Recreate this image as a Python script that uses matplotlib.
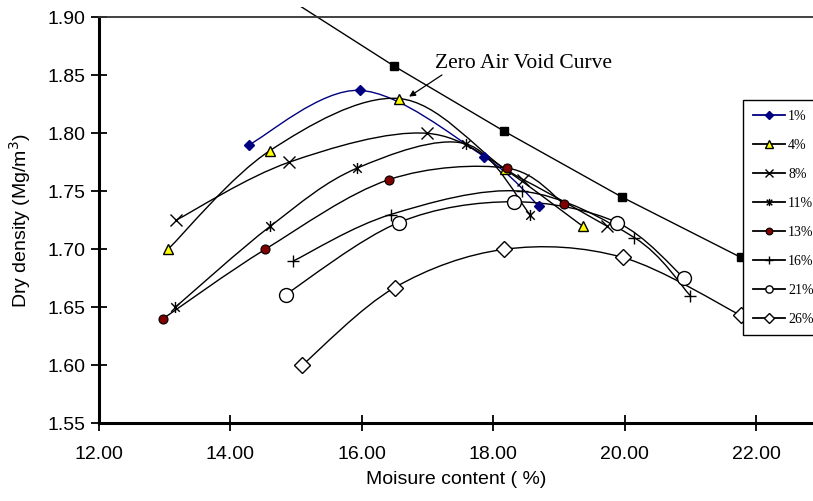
import numpy as np
import matplotlib
matplotlib.use('Agg')
import matplotlib.pyplot as plt
from matplotlib.path import Path
from matplotlib.patches import PathPatch, Rectangle
from matplotlib.lines import Line2D

# Datos
zav_x = [14.5, 16.49, 18.16, 19.96, 21.77]
zav_y = [1.930, 1.858, 1.802, 1.745, 1.693]

series_labels = ['1%', '4%', '8%', '11%', '13%', '16%', '21%', '26%']
x_1 = [14.28, 15.97, 17.86, 18.70]
y_1 = [1.790, 1.837, 1.780, 1.737]
x_4 = [13.05, 14.60, 16.56, 18.18, 19.36]
y_4 = [1.700, 1.785, 1.830, 1.769, 1.720]
x_8 = [13.17, 14.89, 16.99, 18.46, 19.73]
y_8 = [1.725, 1.775, 1.800, 1.760, 1.720]
x_11 = [13.16, 14.61, 15.93, 17.58, 18.56]
y_11 = [1.650, 1.720, 1.770, 1.791, 1.730]
x_13 = [12.97, 14.53, 16.41, 18.21, 19.08]
y_13 = [1.640, 1.700, 1.760, 1.770, 1.739]
x_16 = [14.96, 16.44, 18.44, 20.15, 21.00]
y_16 = [1.690, 1.730, 1.750, 1.710, 1.660]
x_21 = [14.84, 16.56, 18.31, 19.89, 20.91]
y_21 = [1.661, 1.723, 1.741, 1.723, 1.675]
x_26 = [15.09, 16.50, 18.17, 19.97, 21.77]
y_26 = [1.600, 1.667, 1.700, 1.693, 1.643]

x_ticks = [12.00, 14.00, 16.00, 18.00, 20.00, 22.00]
y_ticks = [1.55, 1.60, 1.65, 1.70, 1.75, 1.80, 1.85, 1.90]

SANS = 'Liberation Sans'
SERIF = 'Liberation Serif'

# marcador asterisco tipo Excel (X con barra vertical)
star = Path([(-1, -1), (1, 1), (-1, 1), (1, -1), (0, -1.3), (0, 1.3)],
            [Path.MOVETO, Path.LINETO, Path.MOVETO, Path.LINETO, Path.MOVETO, Path.LINETO])


def curva_suave(x, y):
    # curva de Bezier estilo "linea suavizada" de Excel
    pts = np.column_stack([x, y])
    n = len(pts)
    verts = [pts[0]]
    codes = [Path.MOVETO]
    for i in range(n - 1):
        p0 = pts[max(i - 1, 0)]
        p1 = pts[i]
        p2 = pts[i + 1]
        p3 = pts[min(i + 2, n - 1)]
        verts += [p1 + (p2 - p0) / 6, p2 - (p3 - p1) / 6, p2]
        codes += [Path.CURVE4] * 3
    return Path(verts, codes)


fig = plt.figure(figsize=(8.13, 5.01), dpi=100)
ax = fig.add_axes([99 / 813, 1 - 423.3 / 501, 1 - 99 / 813, (423.3 - 17.3) / 501])

# linea de vacios nulos (recortada un poco por encima del eje)
zav_line, = ax.plot(zav_x, zav_y, color='black', lw=1.0, marker='s', ms=6,
                    mfc='black', mec='black')
clip = Rectangle((0, 0), 1, 1 + 10 / 406, transform=ax.transAxes)
zav_line.set_clip_path(clip)

estilos = [
    (x_1, y_1, dict(color='#000080', marker='D', ms=5, mfc='#000080', mec='#000080', mew=1)),
    (x_4, y_4, dict(color='black', marker='^', ms=7, mfc='#ffff00', mec='black', mew=1)),
    (x_8, y_8, dict(color='black', marker='x', ms=8, mew=1)),
    (x_11, y_11, dict(color='black', marker=star, ms=8, mew=1)),
    (x_13, y_13, dict(color='black', marker='o', ms=6.5, mfc='#800000', mec='black', mew=0.8)),
    (x_16, y_16, dict(color='black', marker='+', ms=9, mew=1)),
    (x_21, y_21, dict(color='black', marker='o', ms=10, mfc='white', mec='black', mew=1)),
    (x_26, y_26, dict(color='black', marker='D', ms=8, mfc='white', mec='black', mew=1)),
]

handles = []
for (xs, ys, st), lab in zip(estilos, series_labels):
    ax.add_patch(PathPatch(curva_suave(xs, ys), fill=False, edgecolor=st['color'], lw=1.0, zorder=2))
    ax.plot(xs, ys, ls='none', zorder=3, **{k: v for k, v in st.items() if k != 'color'},
            color=st['color'])
    hst = dict(st)
    hst['ms'] = min(st['ms'], 7) * 0.75
    handles.append(Line2D([], [], lw=1.3, **hst, label=lab))

ax.set_xlim(12, 12 + (813 - 99) / 65.7)
ax.set_ylim(1.55, 1.90)
ax.set_xticks(x_ticks)
ax.set_yticks(y_ticks)
ax.set_xticklabels([f'{v:.2f}' for v in x_ticks], fontsize=14, family=SANS)
ax.set_yticklabels([f'{v:.2f}' for v in y_ticks], fontsize=14, family=SANS)
ax.tick_params(direction='inout', length=12, width=1.3, pad=4)
ax.tick_params(axis='x', pad=10)

for s in ['left', 'bottom']:
    ax.spines[s].set_linewidth(2.2)
ax.spines['top'].set_linewidth(1.3)
ax.spines['top'].set_color('#333333')
ax.spines['right'].set_visible(False)

ax.set_xlabel('Moisure content ( %)', fontsize=14, family=SANS, labelpad=6)
ax.set_ylabel('Dry density (Mg/m$^3$)', fontsize=14, family=SANS, labelpad=10)

# anotacion
ax.text(17.11, 1.8563, 'Zero Air Void Curve', fontsize=15.5, family=SERIF, va='baseline', ha='left')
ax.annotate('', xy=(16.72, 1.8316), xytext=(17.22, 1.8503),
            arrowprops=dict(arrowstyle='-|>', lw=0.9, color='black', mutation_scale=9,
                            shrinkA=0, shrinkB=0))

leg = fig.legend(handles=handles, loc='upper left', bbox_to_anchor=(743 / 813, 1 - 100 / 501),
                 borderaxespad=0, prop={'family': SERIF, 'size': 10}, frameon=True,
                 fancybox=False, edgecolor='black', framealpha=1, handlelength=2.3,
                 handletextpad=0.25, labelspacing=1.15, borderpad=0.7)
leg.get_frame().set_linewidth(1.0)

fig.savefig('out.png', dpi=100)
